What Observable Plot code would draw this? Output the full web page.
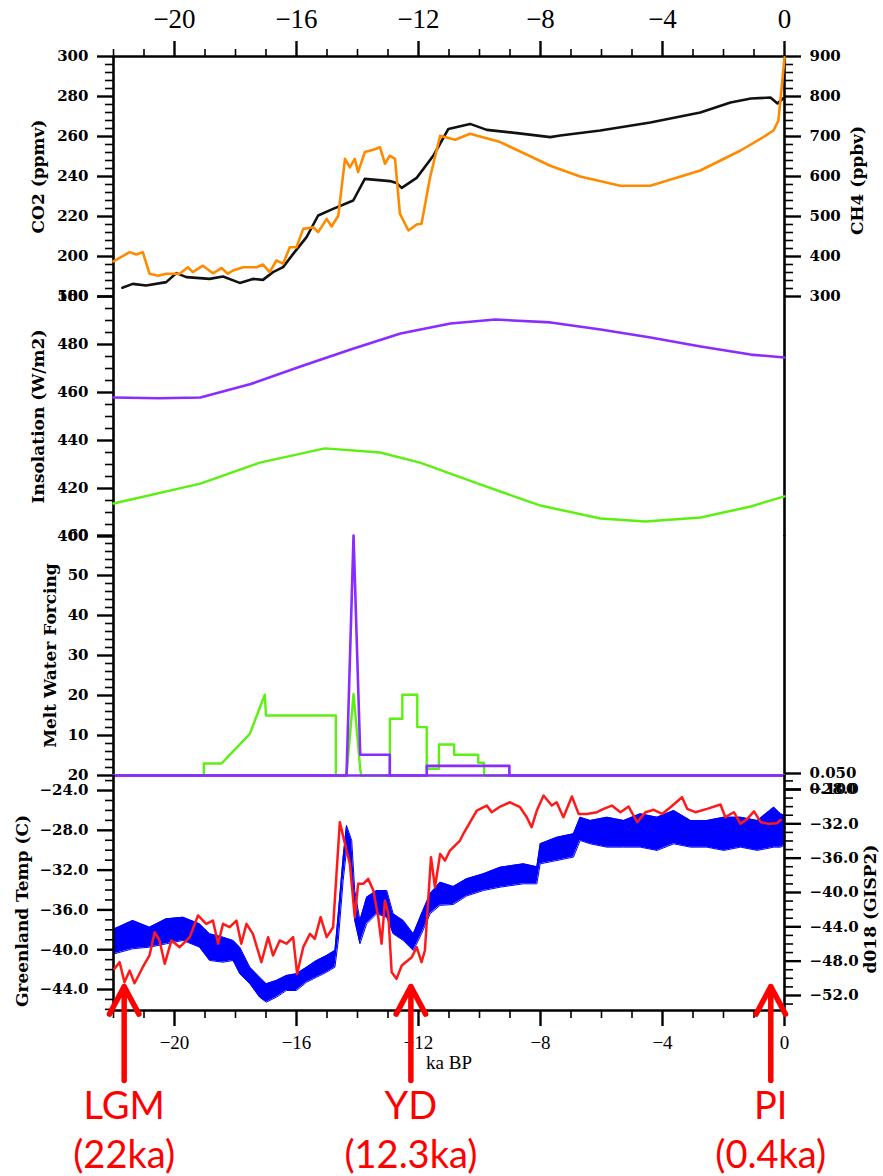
<!DOCTYPE html>
<html>
<head>
<meta charset="utf-8">
<script src="https://cdn.jsdelivr.net/npm/d3@7"></script>
<script src="https://cdn.jsdelivr.net/npm/@observablehq/plot@0.6"></script>
<style>
  html, body { margin: 0; padding: 0; background: #fff; }
  #chart { position: relative; width: 883px; height: 1176px; overflow: hidden; background: #fff; }
  #chart svg { position: absolute; left: 0; top: 0; overflow: visible; background: transparent; max-width: none; }
  #chart g[aria-label="y-axis tick label"] text { font-family: "DejaVu Serif", serif; font-weight: bold; }
  #chart g[aria-label="x-axis tick label"] text { font-family: "Liberation Serif", "Times New Roman", serif; }
</style>
</head>
<body>
<div id="chart"></div>
<script>
// ================= DATA (ka BP, value) =================
const co2 = [[-21.71,184.4],[-21.37,186.3],[-20.93,185.5],[-20.27,187.2],[-19.94,191.7],[-19.61,189.7],[-18.85,188.8],[-18.41,190],[-17.86,186.8],[-17.43,188.8],[-17.1,188.3],[-16.77,192.2],[-16.44,194.7],[-16.11,201.3],[-15.67,209.7],[-15.29,220.5],[-14.8,223.8],[-14.14,228],[-13.76,238.8],[-12.94,237.7],[-12.72,236.7],[-12.55,234.3],[-12.06,239.3],[-11.51,250.5],[-11.02,263.8],[-10.31,266.3],[-9.76,263.3],[-8.77,261.7],[-7.68,259.7],[-7.35,260.5],[-6.04,263],[-4.4,267],[-2.76,272],[-1.77,277],[-1.1,279],[-0.46,279.5],[-0.23,276.5],[-0.05,279]];

const ch4 = [[-22,388],[-21.47,411],[-21.25,405],[-21.04,411],[-20.82,357],[-20.54,352],[-20.27,357],[-19.83,357],[-19.56,373],[-19.4,361],[-19.07,377],[-18.74,358],[-18.46,371],[-18.25,357],[-18.08,365],[-17.75,373],[-17.31,373],[-17.1,380],[-16.88,361],[-16.66,390],[-16.44,382],[-16.22,423],[-16.0,423],[-15.78,469],[-15.45,473],[-15.29,461],[-15.01,494],[-14.85,475],[-14.63,502],[-14.41,644],[-14.25,623],[-14.09,644],[-13.98,611],[-13.76,661],[-13.48,667],[-13.26,673],[-13.1,632],[-12.94,652],[-12.77,644],[-12.61,507],[-12.33,465],[-12.06,480],[-11.9,482],[-11.62,598],[-11.29,702],[-10.8,692],[-10.31,707],[-9.32,686],[-7.68,627],[-6.7,600],[-5.38,577],[-4.4,577],[-2.76,615],[-1.44,665],[-0.62,702],[-0.36,715],[-0.2,740],[-0.07,840],[0,898]];

const insolA = [[-22,457.9],[-20.5,457.6],[-19.15,457.9],[-17.5,463.5],[-15.87,470.8],[-14.2,478],[-12.59,484.6],[-10.95,488.75],[-9.48,490.4],[-7.67,489.2],[-6.03,486.25],[-4.39,482.9],[-2.75,479.2],[-1.11,475.8],[0,474.6]];
const insolB = [[-22,413.75],[-19.15,422],[-17.2,430.8],[-15.07,436.7],[-13.26,435],[-11.95,430.8],[-9.98,421.7],[-8.0,412.9],[-6.03,407.5],[-4.56,406.25],[-2.75,407.9],[-1.11,412.5],[0,416.7]];

const meltA = [[-22,0],[-19.04,0],[-19.04,3],[-18.46,3],[-17.53,10.4],[-17.04,20.2],[-17.0,15],[-14.71,15],[-14.71,0],[-14.36,0],[-14.13,20.4],[-13.91,1.7],[-13.88,0],[-12.94,0],[-12.94,14.2],[-12.53,14.2],[-12.53,20.2],[-12.04,20.2],[-12.04,12.1],[-11.73,12.1],[-11.73,1.7],[-11.33,1.7],[-11.33,7.75],[-10.83,7.75],[-10.83,5.2],[-10.04,5.2],[-10.04,3.2],[-9.85,3.2],[-9.85,0],[0,0]];
const meltB = [[-22,0],[-14.36,0],[-14.13,60],[-13.91,5.2],[-12.94,5.2],[-12.94,0],[-11.73,0],[-11.73,2.4],[-9.02,2.4],[-9.02,0],[0,0]];

const temp = [[-21.97,-41.92],[-21.8,-41.25],[-21.64,-43.27],[-21.47,-42.1],[-21.31,-43.37],[-21.04,-41.76],[-20.82,-40.58],[-20.65,-38.24],[-20.49,-39.07],[-20.32,-41.42],[-20.1,-39.07],[-19.83,-39.75],[-19.5,-38.74],[-19.23,-36.56],[-18.96,-37.4],[-18.74,-37.07],[-18.57,-39.4],[-18.41,-37.4],[-18.19,-37.74],[-17.97,-37.07],[-17.81,-39.4],[-17.64,-37.4],[-17.43,-38.41],[-17.15,-41.25],[-16.93,-38.74],[-16.77,-40.58],[-16.55,-39.07],[-16.33,-39.4],[-16.11,-38.74],[-15.98,-42.44],[-15.78,-39.75],[-15.56,-38.41],[-15.4,-38.91],[-15.21,-36.73],[-15.01,-38.74],[-14.8,-37.74],[-14.58,-27.18],[-14.41,-29.36],[-14.25,-31.37],[-14.09,-36.73],[-13.98,-33.38],[-13.81,-33.38],[-13.65,-32.88],[-13.48,-34.05],[-13.32,-36.73],[-13.21,-39.4],[-13.1,-35.05],[-12.99,-36.39],[-12.88,-42.26],[-12.72,-42.93],[-12.55,-41.59],[-12.22,-40.75],[-12.06,-39.75],[-11.9,-41.25],[-11.79,-40.08],[-11.59,-30.7],[-11.46,-33.72],[-11.29,-30.37],[-11.13,-31.04],[-10.97,-30.03],[-10.64,-29.03],[-10.53,-28.35],[-10.09,-26.01],[-9.76,-25.51],[-9.6,-26.18],[-9.32,-25.61],[-9.0,-25.18],[-8.67,-25.68],[-8.45,-26.68],[-8.29,-27.69],[-8.12,-26.01],[-7.9,-24.5],[-7.63,-25.51],[-7.47,-25.18],[-7.25,-26.68],[-6.97,-24.6],[-6.75,-26.35],[-6.48,-26.35],[-6.15,-26.18],[-5.93,-25.84],[-5.66,-25.51],[-5.38,-26.18],[-5.11,-25.61],[-4.83,-27.18],[-4.56,-26.18],[-4.29,-25.94],[-4.01,-26.35],[-3.74,-25.68],[-3.36,-24.67],[-3.19,-25.84],[-2.92,-26.18],[-2.54,-25.84],[-2.1,-25.41],[-1.94,-26.68],[-1.66,-26.18],[-1.44,-27.35],[-1.22,-26.85],[-1.0,-26.1],[-0.78,-27.18],[-0.51,-27.35],[-0.24,-27.28],[-0.13,-26.96]];

// d18O GISP2: [ka, low edge, high edge] of the noisy band
const d18o = [[-21.97,-47.14,-44.23],[-21.37,-46.56,-43.26],[-20.82,-46.37,-44.04],[-20.27,-45.98,-43.07],[-19.72,-45.59,-42.88],[-19.18,-46.37,-43.65],[-18.85,-47.92,-44.81],[-18.41,-48.12,-45.21],[-18.08,-47.92,-45.59],[-17.86,-49.47,-46.37],[-17.53,-50.64,-48.7],[-17.21,-52.2,-49.87],[-16.99,-52.78,-50.64],[-16.66,-52.2,-50.25],[-16.33,-51.42,-49.67],[-16.0,-51.42,-49.47],[-15.67,-50.45,-48.7],[-15.34,-49.87,-47.92],[-15.01,-49.28,-47.34],[-14.74,-48.7,-46.76],[-14.63,-45.59,-42.45],[-14.47,-38.6,-35.88],[-14.36,-35.1,-32.2],[-14.19,-37.05,-33.94],[-14.09,-43.26,-39.77],[-13.92,-45.98,-43.26],[-13.7,-43.65,-40.55],[-13.37,-42.48,-39.77],[-13.04,-42.88,-39.77],[-12.83,-44.81,-42.48],[-12.5,-45.59,-43.26],[-12.17,-46.76,-44.81],[-11.9,-44.81,-42.48],[-11.62,-42.48,-40.15],[-11.29,-41.5,-38.8],[-10.86,-41.4,-39.3],[-10.42,-40.4,-38.4],[-9.87,-39.77,-37.82],[-9.32,-39.38,-37.05],[-8.56,-38.99,-36.66],[-8.12,-38.99,-37.0],[-8.01,-36.66,-34.33],[-7.46,-36.27,-33.56],[-6.92,-35.88,-33.16],[-6.7,-33.94,-31.23],[-6.37,-34.33,-31.61],[-5.82,-34.72,-31.23],[-5.27,-34.72,-31.61],[-4.73,-34.72,-30.83],[-4.18,-35.1,-31.23],[-3.63,-34.33,-30.45],[-3.08,-34.72,-31.61],[-2.54,-34.72,-31.61],[-1.99,-35.1,-31.23],[-1.44,-34.72,-31.23],[-0.89,-35.1,-31.61],[-0.35,-34.72,-30.06],[-0.13,-34.72,-30.83],[0,-34.5,-31.0]];

// tick values
const xMajor = [-20, -16, -12, -8, -4, 0];
const xAll = d3.range(-22, 1, 1);
const co2Major = [180, 200, 220, 240, 260, 280, 300];
const ch4Major = [300, 400, 500, 600, 700, 800, 900];
const insMajor = [400, 420, 440, 460, 480, 500];
const meltMajor = [0, 10, 20, 30, 40, 50, 60];
const tempMajor = [-44, -40, -36, -32, -28, -24];
const d18oMajor = [-52, -48, -44, -40, -36, -32, -28];
const extraRight = [0.05, 0.1];

// annotations
const annots = [
  {label: "LGM", sub: "(22ka)", ka: -21.65},
  {label: "YD", sub: "(12.3ka)", ka: -12.25},
  {label: "PI", sub: "(0.4ka)", ka: -0.45}
];

// ================= LAYOUT =================
const W = 883, H = 1176, FL = 113, FR = 784;
const P = {gas: [56, 296], ins: [296, 536], melt: [535, 775], temp: [775, 1010]};
const tempDomain = [-46.11, -22.49];
const d18oDomain = [-53.75, -26.37];
const C = {co2: "#111111", ch4: "#ff8a00", purple: "#8a2bff", green: "#5cf010", red: "#ff1a1a", blue: "#0000ff", annot: "#ff0000"};
const SERIF = "DejaVu Serif";
const minus = d => (d < 0 ? "\u2212" + Math.abs(d) : String(d));
const minus1 = d => (d < 0 ? "\u2212" + Math.abs(d).toFixed(1) : d.toFixed(1));
const minors = (lo, hi, step, majors) => d3.range(lo, hi + step / 2, step).filter(v => !majors.some(m => Math.abs(m - v) < 1e-9));

function layer(top, bottom, yOpts, marks) {
  return Plot.plot({
    width: W, height: H,
    marginLeft: FL, marginRight: W - FR, marginTop: top, marginBottom: H - bottom,
    x: {domain: [-22, 0], axis: null},
    y: {...yOpts, axis: null},
    style: {background: "transparent", overflow: "visible", fontFamily: SERIF, fontSize: "16px", color: "#000"},
    marks
  });
}
function yAxes(anchor, major, minor, fmt) {
  return [
    Plot.axisY(minor, {anchor, tickSize: 8, strokeWidth: 1.6, fill: "none", label: null}),
    Plot.axisY(major, {anchor, tickSize: 16, tickPadding: 9, strokeWidth: 2.4, tickFormat: fmt, label: null, fontFamily: SERIF, fontSize: 15, fontWeight: "bold"})
  ];
}
function title(s, anchor, dx, dy = 0) {
  return Plot.text([s], {frameAnchor: anchor, textAnchor: "middle", text: d => d, rotate: -90, dx, dy, fontFamily: SERIF, fontSize: 17, fontWeight: "bold", fill: "#000"});
}
const frameSides = () => Plot.ruleX([-22, 0], {stroke: "#000", strokeWidth: 2.6});
const xy = {x: d => d[0], y: d => d[1]};

const chart = document.getElementById("chart");
const layers = [];

// Panel 1: CO2 (left) + top x axis
layers.push(layer(P.gas[0], P.gas[1], {domain: [180, 300]}, [
  frameSides(),
  Plot.ruleY([300], {stroke: "#000", strokeWidth: 2.6}),
  Plot.axisX(xAll.filter(v => !xMajor.includes(v)), {anchor: "top", tickSize: 8, strokeWidth: 1.6, fill: "none", label: null}),
  Plot.axisX(xMajor, {anchor: "top", tickSize: 16, tickPadding: 13, strokeWidth: 2.4, tickFormat: minus, label: null, fontFamily: "Liberation Serif", fontSize: 27}),
  ...yAxes("left", co2Major, minors(180, 300, 4, co2Major), String),
  title("CO2 (ppmv)", "left", -75),
  Plot.line(co2, {...xy, stroke: C.co2, strokeWidth: 2.6})
]));
// Panel 1: CH4 (right)
layers.push(layer(P.gas[0], P.gas[1], {domain: [300, 900]}, [
  ...yAxes("right", ch4Major, minors(300, 900, 20, ch4Major), String),
  title("CH4 (ppbv)", "right", 73, 4),
  Plot.line(ch4, {...xy, stroke: C.ch4, strokeWidth: 2.6})
]));
// Panel 2: Insolation
layers.push(layer(P.ins[0], P.ins[1], {domain: [400, 500]}, [
  frameSides(),
  ...yAxes("left", insMajor, minors(400, 500, 5, insMajor), String),
  title("Insolation (W/m2)", "left", -75),
  Plot.line(insolA, {...xy, stroke: C.purple, strokeWidth: 2.6}),
  Plot.line(insolB, {...xy, stroke: C.green, strokeWidth: 2.4})
]));
// Panel 3: Melt water
layers.push(layer(P.melt[0], P.melt[1], {domain: [0, 60]}, [
  frameSides(),
  ...yAxes("left", meltMajor, minors(0, 60, 2, meltMajor), d => (d === 0 ? "20" : String(d))),
  title("Melt Water Forcing", "left", -63),
  Plot.line(meltA, {...xy, stroke: C.green, strokeWidth: 2.4}),
  Plot.ruleY([0], {stroke: C.purple, strokeWidth: 2.6}),
  Plot.line(meltB, {...xy, stroke: C.purple, strokeWidth: 2.6})
]));
// small extra right axis labels below melt water panel
layers.push(layer(773, 789, {domain: [0.05, 0.1], reverse: true}, [
  Plot.axisY(extraRight, {anchor: "right", tickSize: 16, tickPadding: 9, strokeWidth: 2.4, tickFormat: d => d.toFixed(3), label: null, fontFamily: SERIF, fontSize: 15, fontWeight: "bold"})
]));
// Panel 4: d18O (right, blue band)
layers.push(layer(P.temp[0], P.temp[1], {domain: d18oDomain}, [
  ...yAxes("right", d18oMajor, minors(-53, -27, 1, d18oMajor), minus1),
  title("d018 (GISP2)", "right", 86, 16),
  Plot.areaY(d18o, {x: d => d[0], y1: d => d[1], y2: d => d[2], fill: C.blue}),
  Plot.line(d18o, {x: d => d[0], y: d => d[2], stroke: C.blue, strokeWidth: 1}),
  Plot.line(d18o, {x: d => d[0], y: d => d[1], stroke: C.blue, strokeWidth: 1})
]));
// Panel 4: Greenland temp (left, red) + bottom x axis
layers.push(layer(P.temp[0], P.temp[1], {domain: tempDomain}, [
  frameSides(),
  Plot.ruleY([tempDomain[0]], {stroke: "#000", strokeWidth: 2.6}),
  Plot.axisX(xAll.filter(v => !xMajor.includes(v)), {anchor: "bottom", tickSize: 8, strokeWidth: 1.6, fill: "none", label: null}),
  Plot.axisX(xMajor, {anchor: "bottom", tickSize: 16, tickPadding: 9, strokeWidth: 2.4, tickFormat: minus, label: null, fontFamily: "Liberation Serif", fontSize: 19}),
  Plot.text(["ka BP"], {frameAnchor: "bottom", textAnchor: "middle", text: d => d, dy: 58, fontFamily: "Liberation Serif", fontSize: 19, fill: "#000"}),
  ...yAxes("left", tempMajor, minors(-46, -23, 1, tempMajor), minus1),
  title("Greenland Temp (C)", "left", -91, 18),
  Plot.line(temp, {...xy, stroke: C.red, strokeWidth: 2.5})
]));
// Annotation layer
const arrowTailY = 1080, arrowTipY = 986, labelY = 1106, subY = 1155;
layers.push(Plot.plot({
  width: W, height: H, marginLeft: FL, marginRight: W - FR, marginTop: 0, marginBottom: 0,
  x: {domain: [-22, 0], axis: null},
  y: {domain: [0, H], range: [0, H], axis: null},
  style: {background: "transparent", overflow: "visible"},
  marks: [
    Plot.arrow(annots, {x: "ka", y1: arrowTailY, y2: arrowTipY, stroke: C.annot, strokeWidth: 5.5, headLength: 24, headAngle: 56}),
    Plot.text(annots, {x: "ka", y: labelY, text: "label", fill: C.annot, fontFamily: "Lato", fontSize: 38}),
    Plot.text(annots, {x: "ka", y: subY, text: "sub", fill: C.annot, fontFamily: "Lato", fontSize: 38})
  ]
}));

layers.forEach(svg => chart.appendChild(svg));
</script>
</body>
</html>
